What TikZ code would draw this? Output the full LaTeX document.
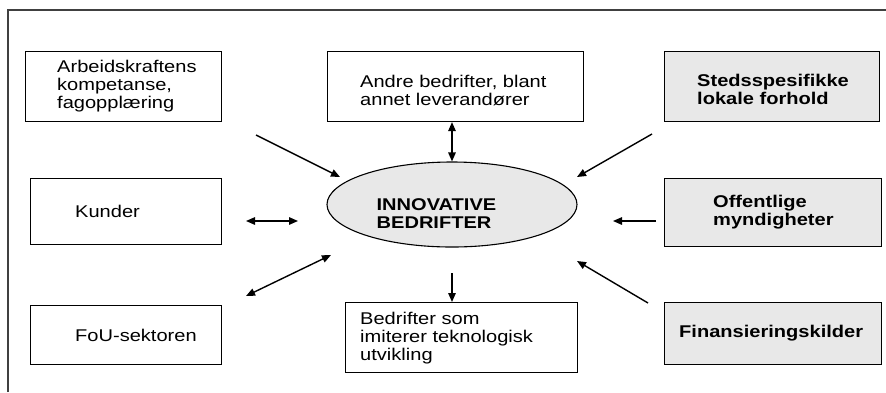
\documentclass[tikz,border=0pt]{standalone}
\usepackage{fontspec}
\setmainfont{Liberation Sans}[FakeStretch=1.18]
\usetikzlibrary{arrows.meta,shapes.geometric}
\definecolor{boxgray}{RGB}{232,232,232}
\definecolor{framegray}{RGB}{64,64,64}
\tikzset{
  box/.style 2 args={draw, line width=1.1pt, minimum width=#1, minimum height=#2,
    inner sep=0pt, anchor=north west},
  graybox/.style 2 args={box={#1}{#2}, fill=boxgray},
  txt/.style={align=left, inner sep=0pt, anchor=west, font=\fontsize{17}{18}\selectfont},
  btxt/.style={txt, font=\fontsize{17}{18}\selectfont\bfseries},
  arr/.style={line width=1.4pt, -{Triangle[length=9pt,width=7.5pt]}},
  darr/.style={line width=1.4pt, {Triangle[length=9pt,width=7.5pt]}-{Triangle[length=9pt,width=7.5pt]}}
}
\begin{document}
\begin{tikzpicture}[x=1pt, y=-1pt]
    \useasboundingbox (0,0) rectangle (886,392);
    \draw[framegray, line width=2pt] (8,392) -- (8,10) -- (886,10);
    % boxes
    \node[box={196}{70}] (arb) at (25,51) {};
    \node[box={191}{66}] (kun) at (30,178) {};
    \node[box={191}{59}] (fou) at (30,305) {};
    \node[box={256}{70}] (andre) at (327,51) {};
    \node[box={232}{70}] (bed) at (345,302) {};
    \node[graybox={215}{70}] (sted) at (664,51) {};
    \node[graybox={217}{68}] (off) at (664,178) {};
    \node[graybox={217}{62}] (fin) at (664,302) {};
    \node[ellipse, draw, line width=1.1pt, fill=boxgray, minimum width=250, minimum height=85,
      inner sep=0pt] (inn) at (452,204.5) {};
    % texts
    \node[txt] (arbT) at ([xshift=32]arb.west) {Arbeidskraftens\\kompetanse,\\fagopplæring};
    \node[txt] (kunT) at ([xshift=45]kun.west) {Kunder};
    \node[txt] (fouT) at ([xshift=45]fou.west) {FoU-sektoren};
    \node[txt] (andreT) at ([xshift=33, yshift=-4]andre.west) {Andre bedrifter, blant\\annet leverandører};
    \node[txt] (bedT) at ([xshift=15, yshift=-1]bed.west) {Bedrifter som\\imiterer teknologisk\\utvikling};
    \node[btxt] (stedT) at ([xshift=33, yshift=-3]sted.west) {Stedsspesifikke\\lokale forhold};
    \node[btxt] (offT) at ([xshift=49]off.west) {Offentlige\\myndigheter};
    \node[btxt] (finT) at ([xshift=15]fin.west) {Finansieringskilder};
    \node[btxt] (innT) at ([xshift=50, yshift=-9]inn.west) {INNOVATIVE\\BEDRIFTER};
    % arrow ends
    \coordinate (A1) at (256,135);
    \coordinate (A2) at (340,177);
    \coordinate (S1) at (652,134);
    \coordinate (S2) at (577,177);
    \coordinate (K1) at (246,221);
    \coordinate (K2) at (298,221);
    \coordinate (O1) at (656,221);
    \coordinate (O2) at (613,221);
    \coordinate (F1) at (246,296);
    \coordinate (F2) at (331,255);
    \coordinate (N1) at (648,303);
    \coordinate (N2) at (577,261);
    \coordinate (D) at (452,273);
    % arrows
    \draw[arr] (A1) -- (A2);
    \draw[darr] (andre.south -| inn.north) -- (inn.north);
    \draw[arr] (S1) -- (S2);
    \draw[darr] (K1) -- (K2);
    \draw[arr] (O1) -- (O2);
    \draw[darr] (F1) -- (F2);
    \draw[arr] (N1) -- (N2);
    \draw[arr] (D) -- (D |- bed.north);
\end{tikzpicture}
\end{document}
